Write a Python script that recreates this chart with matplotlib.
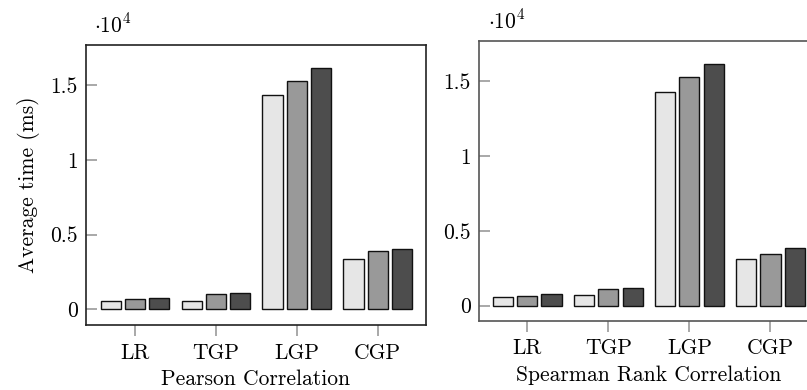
"""
Average time per method, Pearson vs Spearman rank correlation.
Grouped gray bars in a pgfplots-like style.
"""

import numpy as np
import matplotlib
matplotlib.use("Agg")
import matplotlib.pyplot as plt

# ------------------ DATA ------------------
methods = ["LR", "TGP", "LGP", "CGP"]
pearson_a = [555, 555, 14330, 3360]
pearson_b = [690, 1045, 15250, 3900]
pearson_c = [735, 1090, 16120, 4010]
spearman_a = [560, 695, 14250, 3120]
spearman_b = [650, 1115, 15250, 3450]
spearman_c = [780, 1180, 16130, 3830]
ytick_vals = [0, 5000, 10000, 15000]
ytick_labels = ["0", "0.5", "1", "1.5"]

# ------------------ STYLE ------------------
plt.rcParams["font.family"] = "serif"
plt.rcParams["font.serif"] = ["cmr10"]
plt.rcParams["mathtext.fontset"] = "cm"
plt.rcParams["axes.unicode_minus"] = False

COLORS = ["#e6e6e6", "#999999", "#4d4d4d"]
FS = 15.5


def draw_panel(ax, series, xlabel, spine_color, xlim, ylim):
    x = np.arange(len(methods))
    for i, vals in enumerate(series):
        ax.bar(x + (i - 1) * 0.3, vals, width=0.25, color=COLORS[i],
               edgecolor="#111111", linewidth=1.0, zorder=2)
    ax.set_xlim(*xlim)
    ax.set_ylim(*ylim)
    ax.set_xticks(x)
    ax.set_xticklabels(methods, fontsize=FS)
    ax.set_yticks(ytick_vals)
    ax.set_yticklabels(ytick_labels, fontsize=FS)
    ax.tick_params(axis="x", direction="out", length=8, width=1.2,
                   color="#999999", pad=5)
    ax.tick_params(axis="y", direction="in", length=8, width=1.2,
                   color="#999999", pad=6)
    for s in ax.spines.values():
        s.set_color(spine_color)
        s.set_linewidth(1.2)
    ax.set_xlabel(xlabel, fontsize=FS, labelpad=5)
    ax.text(0.025, 1.03, r"$\cdot 10^4$", transform=ax.transAxes,
            fontsize=FS, ha="left", va="bottom")


fig = plt.figure(figsize=(8.07, 3.90), dpi=100)
ax1 = fig.add_axes([86 / 807, 65 / 390, 340 / 807, 280 / 390])
ax2 = fig.add_axes([479 / 807, 69.3 / 390, 340 / 807, 279.7 / 390])

draw_panel(ax1, [pearson_a, pearson_b, pearson_c], "Pearson Correlation",
           "#222222", (-0.606, 3.597), (-1050, 17680))
draw_panel(ax2, [spearman_a, spearman_b, spearman_c], "Spearman Rank Correlation",
           "#555555", (-0.596, 3.6), (-1000, 17670))

ax1.set_ylabel("Average time (ms)", fontsize=FS, labelpad=7)

fig.savefig("out.png", dpi=100)
plt.close(fig)
